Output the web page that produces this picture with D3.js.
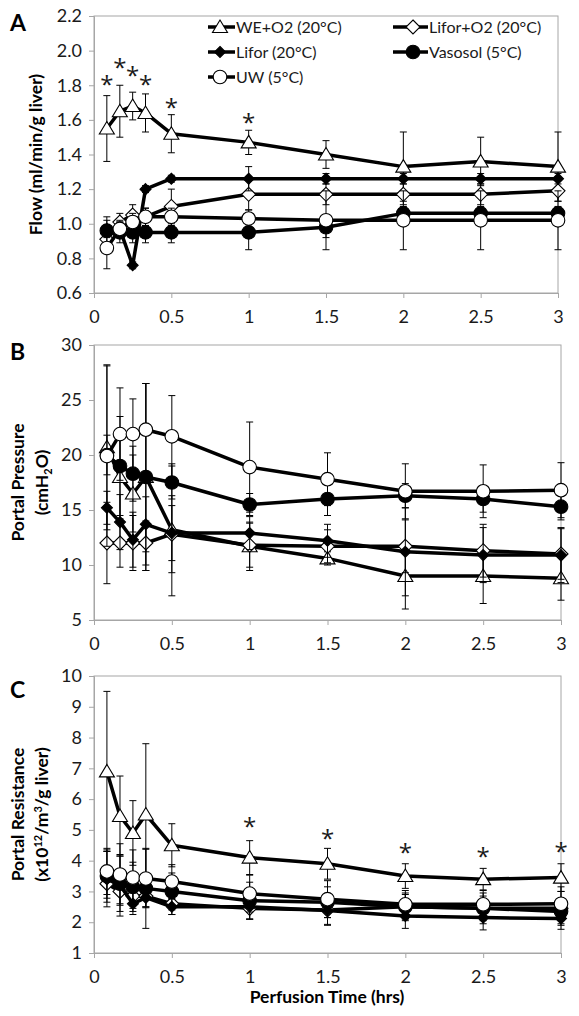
<!DOCTYPE html>
<html><head><meta charset="utf-8">
<script src="https://cdnjs.cloudflare.com/ajax/libs/d3/7.8.5/d3.min.js"></script>
<style>body{margin:0;background:#fff}svg{display:block}</style>
</head><body>
<svg id="chart" width="579" height="1016"></svg>
<script>
// ---------- data ----------
const times = [0.083, 0.167, 0.25, 0.333, 0.5, 1, 1.5, 2, 2.5, 3];
const seriesNames = ["WE+O2 (20°C)", "Lifor+O2 (20°C)", "Lifor (20°C)", "Vasosol (5°C)", "UW (5°C)"];
const xTicks = [0, 0.5, 1, 1.5, 2, 2.5, 3];
const xTickLabels = ["0", "0.5", "1", "1.5", "2", "2.5", "3"];

// Panel A: flow (ml/min/g liver)
const flowWE = [1.55, 1.65, 1.68, 1.64, 1.52, 1.47, 1.40, 1.33, 1.36, 1.33];
const flowWE_sd = [0.19, 0.15, 0.08, 0.11, 0.11, 0.07, 0.08, 0.20, 0.14, 0.20];
const flowLiforO2 = [0.91, 1.01, 1.05, 1.04, 1.10, 1.17, 1.17, 1.17, 1.17, 1.19];
const flowLiforO2_sd = [0.06, 0.05, 0.06, 0.05, 0.10, 0.09, 0.06, 0.06, 0.06, 0.06];
const flowLifor = [0.97, 0.97, 0.76, 1.20, 1.26, 1.26, 1.26, 1.26, 1.26, 1.26];
const flowLifor_sd = [0.05, 0.04, 0.02, 0.02, 0.02, 0.07, 0.03, 0.03, 0.03, 0.03];
const flowVasosol = [0.96, 0.95, 0.95, 0.95, 0.95, 0.95, 0.98, 1.06, 1.06, 1.06];
const flowVasosol_sd = [0.08, 0.06, 0.06, 0.06, 0.06, 0.10, 0.06, 0.04, 0.04, 0.04];
const flowUW = [0.86, 0.97, 1.01, 1.04, 1.04, 1.03, 1.02, 1.02, 1.02, 1.02];
const flowUW_sd = [0.12, 0.05, 0.05, 0.05, 0.05, 0.05, 0.17, 0.17, 0.17, 0.17];
const flowStarTimes = [0.083, 0.167, 0.25, 0.333, 0.5, 1];
const flowStarValues = [1.83, 1.93, 1.88, 1.83, 1.70, 1.61];
const flowYTicks = [0.6, 0.8, 1.0, 1.2, 1.4, 1.6, 1.8, 2.0, 2.2];

// Panel B: portal pressure (cmH2O)
const presWE = [20.7, 18.0, 16.5, 18.0, 13.2, 11.7, 10.6, 9.0, 9.0, 8.8];
const presWE_sd = [7.5, 4.0, 3.5, 8.5, 6.0, 2.2, 0.6, 3.0, 2.5, 2.0];
const presLiforO2 = [12.0, 12.0, 12.0, 12.0, 12.8, 11.8, 11.7, 11.7, 11.3, 11.0];
const presLiforO2_sd = [3.7, 2.2, 2.5, 2.0, 3.5, 2.0, 1.5, 2.4, 2.4, 2.3];
const presLifor = [15.2, 13.9, 12.3, 13.7, 12.9, 12.9, 12.2, 11.2, 10.9, 10.9];
const presLifor_sd = [1.5, 2.5, 2.5, 2.5, 2.5, 1.5, 1.5, 4.0, 2.5, 2.5];
const presVasosol = [20.0, 19.0, 18.3, 18.0, 17.5, 15.5, 16.0, 16.3, 16.0, 15.3];
const presVasosol_sd = [1.8, 4.5, 2.5, 8.5, 1.5, 1.0, 1.5, 1.1, 1.2, 1.2];
const presUW = [19.9, 21.9, 21.9, 22.3, 21.7, 18.9, 17.8, 16.7, 16.7, 16.8];
const presUW_sd = [8.2, 4.2, 3.2, 4.2, 3.7, 4.1, 2.4, 2.5, 2.4, 2.5];
const presYTicks = [5, 10, 15, 20, 25, 30];

// Panel C: portal resistance (x10^12/m^3/g liver)
const resWE = [6.9, 5.45, 4.9, 5.5, 4.5, 4.1, 3.9, 3.5, 3.4, 3.45];
const resWE_sd = [2.6, 1.3, 1.05, 2.3, 0.7, 0.55, 0.5, 0.4, 0.35, 0.45];
const resLiforO2 = [3.25, 3.0, 2.85, 2.85, 2.6, 2.45, 2.4, 2.5, 2.45, 2.45];
const resLiforO2_sd = [0.47, 0.4, 0.4, 0.35, 0.35, 0.35, 0.5, 0.45, 0.5, 0.55];
const resLifor = [3.4, 3.2, 2.6, 2.8, 2.5, 2.5, 2.38, 2.2, 2.15, 2.12];
const resLifor_sd = [0.9, 1.0, 0.35, 0.3, 0.25, 0.4, 0.45, 0.4, 0.4, 0.35];
const resVasosol = [3.5, 3.25, 3.15, 3.1, 3.0, 2.7, 2.65, 2.5, 2.45, 2.35];
const resVasosol_sd = [0.85, 0.9, 0.8, 1.3, 0.6, 0.6, 0.5, 0.4, 0.4, 0.4];
const resUW = [3.65, 3.55, 3.45, 3.42, 3.32, 2.93, 2.75, 2.58, 2.58, 2.6];
const resUW_sd = [0.75, 1.0, 0.9, 0.95, 0.55, 0.6, 0.6, 0.45, 0.45, 0.55];
const resStarTimes = [1, 1.5, 2, 2.5, 3];
const resStarValues = [5.26, 4.86, 4.42, 4.29, 4.44];
const resYTicks = [1, 2, 3, 4, 5, 6, 7, 8, 9, 10];

// ---------- drawing ----------
const FONT = "Lato, 'Open Sans', sans-serif";
const STAR_FONT = "'Open Sans', 'DejaVu Sans', sans-serif";
const svg = d3.select("#chart");
const markerTypes = ["triangle", "diamondOpen", "diamondFilled", "circleFilled", "circleOpen"];

function markerPath(type) {
  if (type === "triangle") return "M0,-7L7.5,5.5L-7.5,5.5Z";
  if (type === "diamondOpen") return "M0,-7L7,0L0,7L-7,0Z";
  if (type === "diamondFilled") return "M0,-5.5L5.5,0L0,5.5L-5.5,0Z";
  return d3.symbol().type(d3.symbolCircle).size(Math.PI * 6.8 * 6.8)();
}
function markerFill(type) {
  return (type === "diamondFilled" || type === "circleFilled") ? "#000" : "#fff";
}

function drawPanel(cfg) {
  const g = svg.append("g");
  const x = d3.scaleLinear().domain([0, 3]).range([cfg.left, cfg.right]);
  const y = d3.scaleLinear().domain(cfg.yDomain).range([cfg.bottom, cfg.top]);

  g.append("rect").attr("x", cfg.left).attr("y", cfg.top)
    .attr("width", cfg.right - cfg.left).attr("height", cfg.bottom - cfg.top)
    .attr("fill", "none").attr("stroke", "#a6a6a6").attr("stroke-width", 1);

  const xAxis = d3.axisBottom(x).tickValues(xTicks).tickSize(5)
    .tickFormat((d, i) => xTickLabels[i]).tickPadding(10);
  const gx = g.append("g").attr("transform", `translate(0,${cfg.bottom})`).call(xAxis);
  const yAxis = d3.axisLeft(y).tickValues(cfg.yTicks).tickSize(5)
    .tickFormat(cfg.yFormat).tickPadding(7);
  const gy = g.append("g").attr("transform", `translate(${cfg.left},0)`).call(yAxis);
  [gx, gy].forEach(a => {
    a.select(".domain").attr("stroke", "#a6a6a6");
    a.selectAll(".tick line").attr("stroke", "#a6a6a6");
    a.selectAll("text").attr("font-family", FONT).attr("font-size", 18).attr("fill", "#1a1a1a");
  });
  gx.selectAll("text").attr("dy", "0.85em");

  cfg.series.forEach((s, si) => {
    const type = markerTypes[si];
    const pts = times.map((t, i) => ({t, v: s.values[i], sd: s.sd[i]}));
    const eg = g.append("g");
    pts.forEach(p => {
      const y1 = y(p.v + p.sd), y2 = y(p.v - p.sd);
      const xx = x(p.t);
      eg.append("line").attr("x1", xx).attr("x2", xx).attr("y1", y1).attr("y2", y2)
        .attr("stroke", "#000").attr("stroke-width", 1);
      [y1, y2].forEach(yy => eg.append("line").attr("x1", xx - 3.5).attr("x2", xx + 3.5)
        .attr("y1", yy).attr("y2", yy).attr("stroke", "#000").attr("stroke-width", 1));
    });
    g.append("path").datum(pts)
      .attr("d", d3.line().x(d => x(d.t)).y(d => y(d.v)))
      .attr("fill", "none").attr("stroke", "#000").attr("stroke-width", 3.5)
      .attr("stroke-linejoin", "round");
    g.append("g").selectAll("path").data(pts).join("path")
      .attr("d", markerPath(type))
      .attr("transform", d => `translate(${x(d.t)},${y(d.v)})`)
      .attr("fill", markerFill(type)).attr("stroke", "#000").attr("stroke-width", 1.1);
  });

  if (cfg.starTimes) {
    g.append("g").selectAll("text").data(cfg.starTimes).join("text")
      .attr("x", d => x(d))
      .attr("y", (d, i) => y(cfg.starValues[i]) + 13)
      .attr("text-anchor", "middle").attr("font-family", STAR_FONT).attr("font-size", 24)
      .attr("fill", "#1a1a1a").text("*");
  }

  g.append("text").attr("x", 10).attr("y", cfg.letterY).attr("font-family", FONT)
    .attr("font-weight", "bold").attr("font-size", 23).attr("fill", "#000").text(cfg.letter);

  const cy = (cfg.top + cfg.bottom) / 2;
  cfg.yTitle(g, cy);
  return {x, y, g};
}

function rotText(g, xPos, cy) {
  return g.append("text").attr("transform", `translate(${xPos},${cy}) rotate(-90)`)
    .attr("text-anchor", "middle").attr("font-family", FONT).attr("font-weight", "bold")
    .attr("font-size", 17.5).attr("fill", "#000");
}

drawPanel({
  left: 94, right: 558, top: 16, bottom: 293, yDomain: [0.6, 2.2], yTicks: flowYTicks,
  yFormat: d3.format(".1f"), letter: "A", letterY: 31,
  series: [
    {values: flowWE, sd: flowWE_sd}, {values: flowLiforO2, sd: flowLiforO2_sd},
    {values: flowLifor, sd: flowLifor_sd}, {values: flowVasosol, sd: flowVasosol_sd},
    {values: flowUW, sd: flowUW_sd}],
  starTimes: flowStarTimes, starValues: flowStarValues,
  yTitle: (g, cy) => rotText(g, 42, cy).text("Flow (ml/min/g liver)")
});

drawPanel({
  left: 94, right: 561, top: 345, bottom: 620, yDomain: [5, 30], yTicks: presYTicks,
  yFormat: d3.format("d"), letter: "B", letterY: 360,
  series: [
    {values: presWE, sd: presWE_sd}, {values: presLiforO2, sd: presLiforO2_sd},
    {values: presLifor, sd: presLifor_sd}, {values: presVasosol, sd: presVasosol_sd},
    {values: presUW, sd: presUW_sd}],
  yTitle: (g, cy) => {
    rotText(g, 24, cy).text("Portal Pressure");
    const t = rotText(g, 48, cy);
    t.append("tspan").text("(cmH");
    t.append("tspan").attr("font-size", 11).attr("dy", 4).text("2");
    t.append("tspan").attr("dy", -4).text("O)");
  }
});

drawPanel({
  left: 94, right: 561, top: 676, bottom: 953, yDomain: [1, 10], yTicks: resYTicks,
  yFormat: d3.format("d"), letter: "C", letterY: 698,
  series: [
    {values: resWE, sd: resWE_sd}, {values: resLiforO2, sd: resLiforO2_sd},
    {values: resLifor, sd: resLifor_sd}, {values: resVasosol, sd: resVasosol_sd},
    {values: resUW, sd: resUW_sd}],
  starTimes: resStarTimes, starValues: resStarValues,
  yTitle: (g, cy) => {
    rotText(g, 24, cy).text("Portal Resistance");
    const t = rotText(g, 48, cy);
    t.append("tspan").text("(x10");
    t.append("tspan").attr("font-size", 11).attr("dy", -6).text("12");
    t.append("tspan").attr("dy", 6).text("/m");
    t.append("tspan").attr("font-size", 11).attr("dy", -6).text("3");
    t.append("tspan").attr("dy", 6).text("/g liver)");
  }
});

svg.append("text").attr("x", 327).attr("y", 1003).attr("text-anchor", "middle")
  .attr("font-family", FONT).attr("font-weight", "bold").attr("font-size", 17.5)
  .attr("fill", "#000").text("Perfusion Time (hrs)");

const legendPos = [[208, 27], [393, 27], [208, 52], [393, 52], [208, 77]];
const lg = svg.append("g");
seriesNames.forEach((name, i) => {
  const [lx, ly] = legendPos[i];
  const w = i % 2 === 0 ? 27 : 35;
  lg.append("line").attr("x1", lx).attr("x2", lx + w).attr("y1", ly).attr("y2", ly)
    .attr("stroke", "#000").attr("stroke-width", 3.5);
  lg.append("path").attr("d", markerPath(markerTypes[i]))
    .attr("transform", `translate(${lx + (i % 2 === 0 ? 12 : 20)},${ly})`)
    .attr("fill", markerFill(markerTypes[i])).attr("stroke", "#000").attr("stroke-width", 1.1);
  lg.append("text").attr("x", lx + w + 1).attr("y", ly + 6)
    .attr("font-family", FONT).attr("font-size", 16).attr("fill", "#1a1a1a").text(name);
});
</script>
</body></html>
